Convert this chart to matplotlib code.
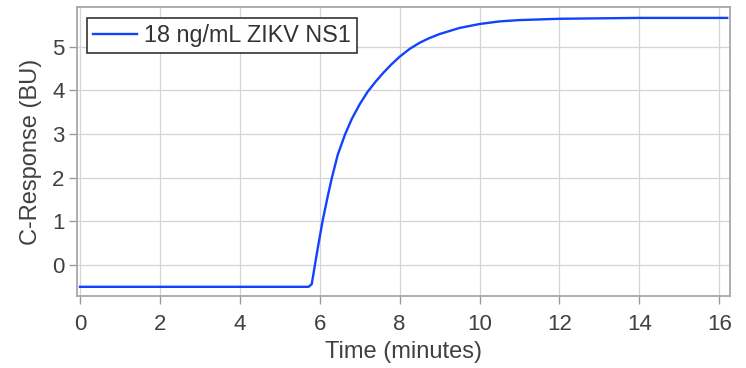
import numpy as np
import matplotlib
matplotlib.use("Agg")
from matplotlib import pyplot as plt

# values
time_min = [0, 5.72, 5.80, 5.88, 5.95, 6.07, 6.20, 6.30, 6.45, 6.63, 6.80, 7.00,
            7.20, 7.40, 7.60, 7.80, 8.00, 8.25, 8.50, 8.75, 9.00, 9.50, 10.0,
            10.5, 11.0, 12.0, 13.0, 14.0, 15.0, 16.2]
response = [-0.5, -0.5, -0.44, 0.0, 0.38, 1.0, 1.57, 1.98, 2.52, 2.98, 3.34, 3.68,
            3.97, 4.20, 4.41, 4.60, 4.77, 4.95, 5.09, 5.20, 5.29, 5.43, 5.52,
            5.58, 5.61, 5.64, 5.65, 5.66, 5.66, 5.66]
series_label = "18 ng/mL ZIKV NS1"
x_ticks = [0, 2, 4, 6, 8, 10, 12, 14, 16]
y_ticks = [0, 1, 2, 3, 4, 5]

plt.rcParams['font.family'] = ['Liberation Sans', 'DejaVu Sans']

fig = plt.figure(figsize=(7.46, 3.68), dpi=100)
ax = fig.add_axes([0.1032, 0.1957, 0.8754, 0.7853])

ax.plot(time_min, response, color='#1242ff', lw=1.7, label=series_label)

ax.set_xlim(-0.075, 16.27)
ax.set_ylim(-0.71, 5.91)
ax.set_xticks(x_ticks)
ax.set_yticks(y_ticks)
ax.grid(True, color='#d4d4d4', lw=0.9)
ax.set_axisbelow(True)
for s in ax.spines.values():
    s.set_color('#a8a8a8')
    s.set_linewidth(1.3)
ax.tick_params(colors='#9a9a9a', labelcolor='#404040', labelsize=16,
               length=6, width=1)
ax.tick_params(axis='x', pad=7)
ax.tick_params(axis='y', pad=3)

ax.set_xlabel("Time (minutes)", fontsize=17, color='#404040', labelpad=4)
ax.set_ylabel("C-Response (BU)", fontsize=17, color='#404040', labelpad=7)

leg = ax.legend(loc='upper left', fontsize=16.8, frameon=True, fancybox=False,
                edgecolor='#333333', handlelength=1.9, borderpad=0.25,
                handletextpad=0.3, borderaxespad=0, framealpha=1,
                bbox_to_anchor=(0.0155, 0.962))
leg.get_frame().set_linewidth(1.2)
for t in leg.get_texts():
    t.set_color('#333333')

fig.savefig("out.png", dpi=100)
